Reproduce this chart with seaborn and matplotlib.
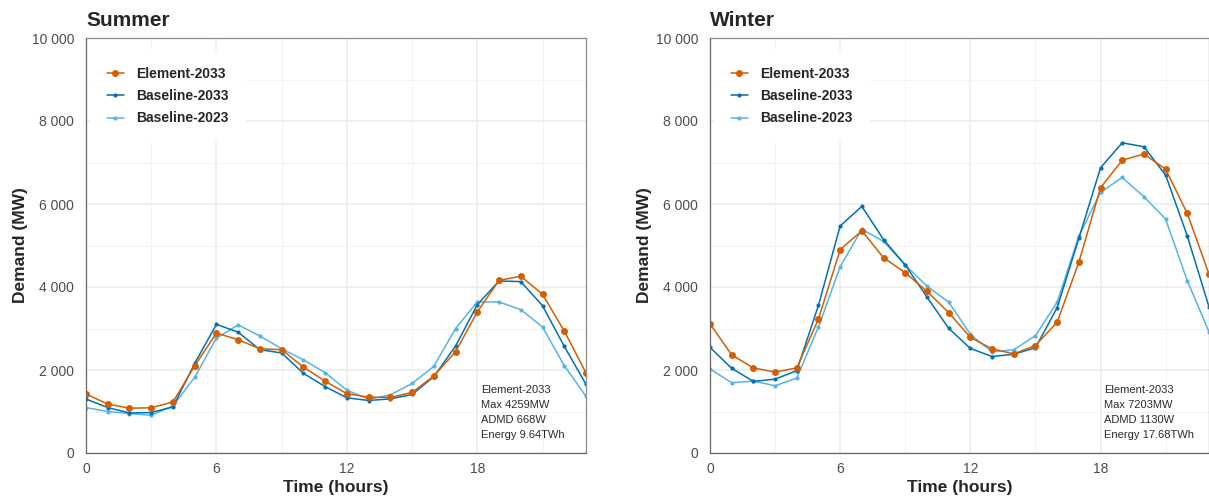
import matplotlib
matplotlib.use('Agg')
import matplotlib.pyplot as plt
import matplotlib.ticker as mticker
import seaborn as sns

# hourly demand (MW)
hours = list(range(24))

summer_element_2033 = [1420, 1180, 1080, 1090, 1230, 2100, 2890, 2730, 2510, 2490, 2070, 1730,
                       1430, 1345, 1340, 1460, 1855, 2440, 3400, 4160, 4259, 3825, 2940, 1930]
summer_baseline_2033 = [1300, 1095, 965, 975, 1110, 2160, 3100, 2910, 2490, 2410, 1920, 1600,
                        1330, 1265, 1305, 1410, 1840, 2575, 3575, 4145, 4130, 3550, 2570, 1655]
summer_baseline_2023 = [1095, 1000, 950, 910, 1135, 1825, 2770, 3085, 2820, 2510, 2245, 1935,
                        1515, 1295, 1400, 1675, 2090, 3000, 3640, 3640, 3455, 3035, 2105, 1365]

winter_element_2033 = [3110, 2365, 2050, 1950, 2050, 3230, 4900, 5355, 4705, 4345, 3895, 3385,
                       2785, 2510, 2390, 2590, 3150, 4595, 6390, 7056, 7203, 6840, 5772, 4310]
winter_baseline_2033 = [2545, 2040, 1725, 1780, 1985, 3560, 5472, 5943, 5142, 4530, 3760, 3005,
                        2520, 2325, 2380, 2535, 3500, 5170, 6872, 7475, 7378, 6697, 5230, 3523]
winter_baseline_2023 = [2025, 1693, 1733, 1620, 1806, 3037, 4490, 5390, 5100, 4530, 4020, 3637,
                        2860, 2438, 2487, 2827, 3630, 5225, 6280, 6640, 6175, 5637, 4150, 2920]

series_names = ['Element-2033', 'Baseline-2033', 'Baseline-2023']
colors = {'Element-2033': '#D55E00', 'Baseline-2033': '#0072B2', 'Baseline-2023': '#56B4E9'}
marker_sizes = {'Element-2033': 5.0, 'Baseline-2033': 3.0, 'Baseline-2023': 3.0}

summer_stats = ['Element-2033', 'Max 4259MW', 'ADMD 668W', 'Energy 9.64TWh']
winter_stats = ['Element-2033', 'Max 7203MW', 'ADMD 1130W', 'Energy 17.68TWh']

sns.set_style('white')
plt.rcParams['font.family'] = ['Liberation Sans', 'DejaVu Sans']

fig = plt.figure(figsize=(12.09, 4.97), dpi=100)
ax_s = fig.add_axes([86 / 1209, 1 - 453 / 497, 500 / 1209, 415 / 497])
ax_w = fig.add_axes([710 / 1209, 1 - 453 / 497, 499 / 1209, 415 / 497])


def space_thousands(v, pos):
    return f'{int(v):,}'.replace(',', ' ')


def draw_panel(ax, title, data, stats):
    # baselines first so the element line sits on top
    for name in reversed(series_names):
        sns.lineplot(x=hours, y=data[name], ax=ax, color=colors[name], label=name,
                     marker='o', markersize=marker_sizes[name], markeredgewidth=0,
                     linewidth=1.1)

    ax.set_xlim(0, 23)
    ax.set_ylim(0, 10000)
    ax.xaxis.set_major_locator(mticker.MultipleLocator(6))
    ax.xaxis.set_minor_locator(mticker.MultipleLocator(3))
    ax.yaxis.set_major_locator(mticker.MultipleLocator(2000))
    ax.yaxis.set_minor_locator(mticker.MultipleLocator(1000))
    ax.yaxis.set_major_formatter(mticker.FuncFormatter(space_thousands))

    ax.grid(which='major', color='#ebebeb', linewidth=1.1)
    ax.grid(which='minor', color='#f3f3f3', linewidth=0.7)
    ax.set_axisbelow(True)

    ax.tick_params(which='major', length=3, width=0.8, color='#555555',
                   labelcolor='#4d4d4d', labelsize=10)
    ax.tick_params(axis='y', pad=5.5)
    ax.tick_params(axis='x', pad=3.5)
    ax.tick_params(which='minor', length=0)

    for side in ['top', 'right']:
        ax.spines[side].set_color('#8c8c8c')
        ax.spines[side].set_linewidth(0.9)
    for side in ['left', 'bottom']:
        ax.spines[side].set_color('#666666')
        ax.spines[side].set_linewidth(0.9)

    ax.set_xlabel('Time (hours)', fontsize=12.5, fontweight='bold', labelpad=3)
    ax.set_ylabel('Demand (MW)', fontsize=12.5, fontweight='bold', labelpad=3)
    ax.set_title(title, loc='left', fontsize=15, fontweight='bold', pad=9)

    # legend in the order Element, Baseline-2033, Baseline-2023
    handles, labels = ax.get_legend_handles_labels()
    order = [labels.index(n) for n in series_names]
    leg = ax.legend([handles[i] for i in order], [labels[i] for i in order],
                    loc='upper left', bbox_to_anchor=(0.008, 0.971), borderaxespad=0,
                    borderpad=1.2, frameon=True, framealpha=1, fancybox=False,
                    handlelength=1.25, handletextpad=0.9, labelspacing=0.6,
                    prop={'weight': 'bold', 'size': 10})
    leg.get_frame().set_edgecolor('none')
    leg.get_frame().set_facecolor('white')
    leg.set_zorder(2.4)

    ax.text(0.79, 0.165, '\n'.join(stats), transform=ax.transAxes, ha='left', va='top',
            fontsize=8, color='#2b2b2b', linespacing=1.65)


draw_panel(ax_s, 'Summer', {'Element-2033': summer_element_2033,
                            'Baseline-2033': summer_baseline_2033,
                            'Baseline-2023': summer_baseline_2023}, summer_stats)
draw_panel(ax_w, 'Winter', {'Element-2033': winter_element_2033,
                            'Baseline-2033': winter_baseline_2033,
                            'Baseline-2023': winter_baseline_2023}, winter_stats)

fig.savefig('out.png', dpi=100)
